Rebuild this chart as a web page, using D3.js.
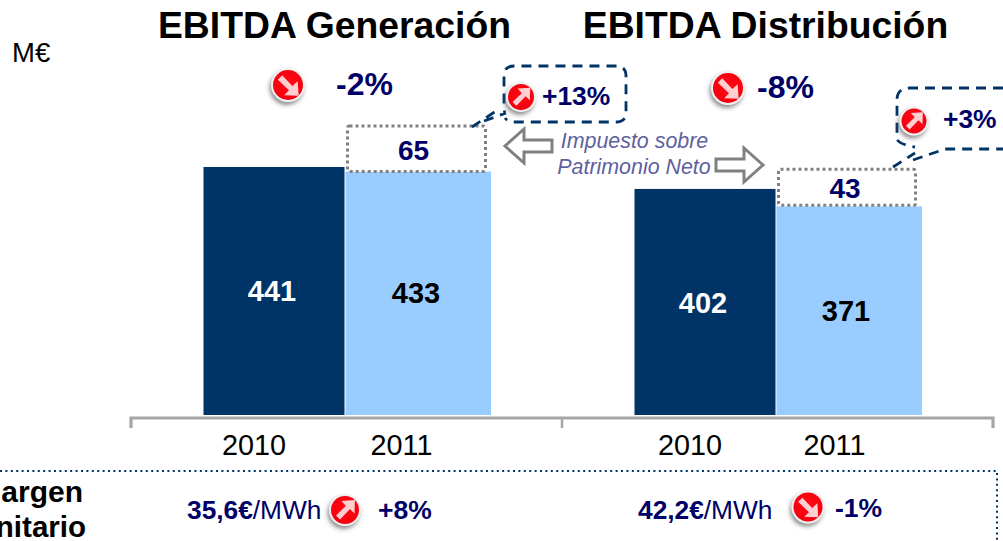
<!DOCTYPE html>
<html><head><meta charset="utf-8">
<style>html,body{margin:0;padding:0;background:#fff;overflow:hidden}svg{display:block;font-family:"Liberation Sans",Arial,sans-serif}</style>
<script src="https://cdnjs.cloudflare.com/ajax/libs/d3/7.8.5/d3.min.js"></script>
</head><body><svg id="c" width="1003" height="541"></svg>
<script>
const groups = ["Generación","Distribución"];
const years = ["2010","2011"];
const valuesGeneracion = [441,433];
const valuesDistribucion = [402,371];
const extras = [65,43];
const extraBoxTops = [514,437];   // top of dotted box, as read on the bar scale
const totals = ["-2%","-8%"];
const extraChanges = ["+13%","+3%"];
const margins = ["35,6€","42,2€"];
const marginChanges = ["+8%","-1%"];

const navy="#000066", dark="#003366", light="#99CCFF", grey="#A6A6A6", dots="#808080";
const svg=d3.select("#c");
const defs=svg.append("defs");
const f=defs.append("filter").attr("id","sh").attr("x","-50%").attr("y","-50%").attr("width","220%").attr("height","220%");
f.append("feDropShadow").attr("dx",-1.5).attr("dy",3).attr("stdDeviation",2.2).attr("flood-color","#555").attr("flood-opacity",.65);
const rg=defs.append("radialGradient").attr("id","red").attr("cx",".5").attr("cy",".45").attr("r",".6");
rg.append("stop").attr("offset",0).attr("stop-color","#ff0a14");
rg.append("stop").attr("offset",.8).attr("stop-color","#f8000f");
rg.append("stop").attr("offset",1).attr("stop-color","#d80a18");

const x0=d3.scaleBand().domain(groups).range([131,993]);
const y=d3.scaleLinear().domain([0,441]).range([415,167]);
const inner={ "2010":[72.5,213.5], "2011":[214.5,360] };

// Axis
const axis=svg.append("g").attr("transform","translate(0,418)");
axis.append("path").attr("fill","none").attr("stroke",grey).attr("stroke-width",3.2)
  .attr("d",`M${x0.range()[0]},10V0H${x0.range()[1]}V10`);
axis.append("path").attr("stroke",grey).attr("stroke-width",2.5)
  .attr("d",`M${x0(groups[1])},0V10`);

const series=[valuesGeneracion,valuesDistribucion];
const labelFill={ "2010":"#fff", "2011":"#000" };
const labelY=[[291,293],[303,311]];
const labelX=[[272,416],[703,846]];
const yearX=[[254,401.5],[690,834.5]];
groups.forEach((g,i)=>{
  const gx=x0(g);
  const rows=years.map((yr,j)=>({yr,j,v:series[i][j]}));
  svg.selectAll(null).data(rows).join("rect")
    .attr("x",d=>gx+inner[d.yr][0]).attr("width",d=>inner[d.yr][1]-inner[d.yr][0])
    .attr("y",d=>y(d.v)).attr("height",d=>y(0)-y(d.v))
    .attr("fill",d=>d.j?light:dark);
  svg.selectAll(null).data(rows).join("text")
    .attr("x",d=>labelX[i][d.j])
    .attr("y",d=>labelY[i][d.j]).attr("dy",".35em")
    .attr("text-anchor","middle").attr("font-size",29).attr("font-weight","bold")
    .attr("fill",d=>labelFill[d.yr]).text(d=>d.v);
  svg.selectAll(null).data(rows).join("text")
    .attr("x",d=>yearX[i][d.j])
    .attr("y",455).attr("text-anchor","middle").attr("font-size",28.8).attr("fill","#000").text(d=>d.yr);
});

// Dotted boxes over the 2011 bars
const boxX=[347,778], boxW=[138,137];
const extraX=[413.5,845];
extras.forEach((e,i)=>{
  const top=y(extraBoxTops[i]), bot=y(series[i][1])-(i?1:0);
  svg.append("rect").attr("x",boxX[i]+.5).attr("y",top).attr("width",boxW[i]).attr("height",bot-top)
    .attr("rx",2).attr("fill","#fff").attr("stroke",dots).attr("stroke-width",3).attr("stroke-dasharray","3 3");
  svg.append("text").attr("x",extraX[i]).attr("y",i?198:160).attr("text-anchor","middle")
    .attr("font-size",28).attr("font-weight","bold").attr("fill",navy).text(e);
});

function icon(cx,cy,up,r=15){
  const g=svg.append("g").attr("transform",`translate(${cx},${cy})`);
  g.append("circle").attr("r",r+2).attr("fill","#f0eeee").attr("filter","url(#sh)");
  g.append("circle").attr("r",r).attr("fill","url(#red)");
  const s=r/15.5;
  const a=g.append("g").attr("transform",`scale(${s}) rotate(${up?0:90})`);
  a.append("path").attr("fill","#ffe4e6").attr("fill-opacity",.9)
    .attr("d","M-10,6 L1,-4.5 L-4,-10 L11,-11 L10.5,4 L5.5,-1 L-5.5,10.5 Z");
}
function txt(x,y,t,size,opts={}){
  const n=svg.append("text").attr("x",x).attr("y",y).attr("font-size",size)
    .attr("fill",opts.fill||navy).attr("font-weight",opts.weight||"bold").text(t);
  if(opts.anchor)n.attr("text-anchor",opts.anchor);
  if(opts.style)n.attr("font-style",opts.style);
  return n;
}

// Titles
txt(334.5,38,"EBITDA "+groups[0],37.3,{fill:"#000",anchor:"middle"});
txt(765.5,38,"EBITDA "+groups[1],37.3,{fill:"#000",anchor:"middle"});
txt(12,62,"M€",27.5,{fill:"#000",weight:"normal"});

// Change figures
icon(288,85,false); txt(336,95,totals[0],32);
icon(728,88,false); txt(757,98,totals[1],32);

// Callouts
const dash="10 7";
svg.append("path").attr("fill","none").attr("stroke",dark).attr("stroke-width",2.8).attr("stroke-dasharray",dash)
 .attr("d","M472,127 L499,109 M484,121 L506,113 Q504,114 504,106 V76 Q504,66 514,66 H616 Q626,66 626,76 V112 Q626,122 616,122 H514 Q508,122 505,118");
svg.append("path").attr("fill","none").attr("stroke",dark).attr("stroke-width",2.8).attr("stroke-dasharray",dash)
 .attr("d","M893,167 L915,153 M913,160 L945,149 H1003 M1003,88 H910 Q897,88 897,100 V138 Q897,144 915,147");
icon(521,97,true,13); txt(542,105,extraChanges[0],26.4);
icon(914,121,true,12.5); txt(943,128,extraChanges[1],26.4);

// Impuesto annotation
const purple="#5F5F9F";
txt(634.5,148,"Impuesto sobre",21.4,{fill:purple,weight:"normal",style:"italic",anchor:"middle"});
txt(634,174,"Patrimonio Neto",21.4,{fill:purple,weight:"normal",style:"italic",anchor:"middle"});
const arrowPath="M0,-6 H28 V-17 L47,0 L28,17 V6 H0 Z";
svg.append("path").attr("transform","translate(552,146) scale(-1,1)")
  .attr("d",arrowPath).attr("fill","#fff").attr("stroke",dots).attr("stroke-width",3);
svg.append("path").attr("transform","translate(716,165)")
  .attr("d",arrowPath).attr("fill","#fff").attr("stroke",dots).attr("stroke-width",3);

// Bottom panel
svg.append("path").attr("fill","none").attr("stroke",dark).attr("stroke-width",2).attr("stroke-dasharray","2 3.4")
  .attr("d","M0,471 H997 V541");
txt(83,502,"Margen",30,{fill:"#000",anchor:"end"});
txt(86,537,"Unitario",29.5,{fill:"#000",anchor:"end"});

const mx=[187,638];
margins.forEach((m,i)=>{
  const t=svg.append("text").attr("x",mx[i]).attr("y",519).attr("font-size",26.3).attr("fill",navy);
  t.append("tspan").attr("font-weight","bold").text(m);
  t.append("tspan").text("/MWh");
});
icon(345,510,true,14); txt(378,519,marginChanges[0],26.5);
icon(808,507,false,14.5); txt(835,517,marginChanges[1],26.5);
</script></body></html>
